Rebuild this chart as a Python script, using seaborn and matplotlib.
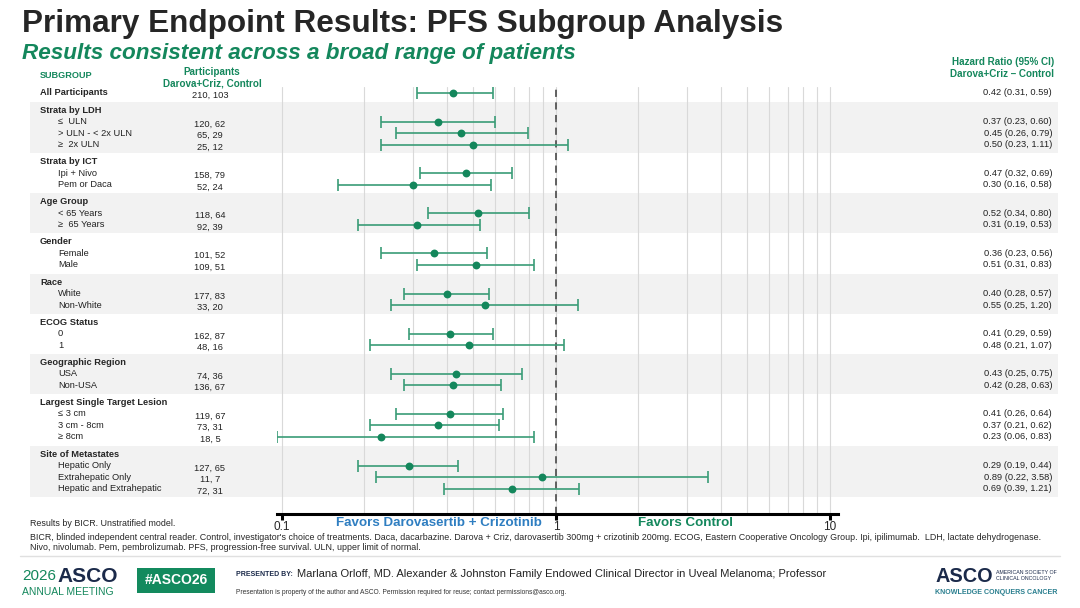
import numpy as np
import pandas as pd
import matplotlib
matplotlib.use('Agg')
import matplotlib.pyplot as plt
from matplotlib.patches import Rectangle
from matplotlib.lines import Line2D
from matplotlib.ticker import LogLocator, NullFormatter
import seaborn as sns

# Veriler
group_names = ['Strata by LDH', 'Strata by ICT', 'Age Group', 'Gender', 'Race', 'ECOG Status',
               'Geographic Region', 'Largest Single Target Lesion', 'Site of Metastates']
group_sizes = [3, 2, 2, 2, 2, 2, 2, 3, 3]

subgroups = ['All Participants',
             '≤  ULN', '> ULN - < 2x ULN', '≥  2x ULN',
             'Ipi + Nivo', 'Pem or Daca',
             '< 65 Years', '≥  65 Years',
             'Female', 'Male',
             'White', 'Non-White',
             '0', '1',
             'USA', 'Non-USA',
             '≤ 3 cm', '3 cm - 8cm', '≥ 8cm',
             'Hepatic Only', 'Extrahepatic Only', 'Hepatic and Extrahepatic']
participants = ['210, 103', '120, 62', '65, 29', '25, 12', '158, 79', '52, 24', '118, 64', '92, 39',
                '101, 52', '109, 51', '177, 83', '33, 20', '162, 87', '48, 16', '74, 36', '136, 67',
                '119, 67', '73, 31', '18, 5', '127, 65', '11, 7', '72, 31']
hr = [0.42, 0.37, 0.45, 0.50, 0.47, 0.30, 0.52, 0.31, 0.36, 0.51, 0.40,
      0.55, 0.41, 0.48, 0.43, 0.42, 0.41, 0.37, 0.23, 0.29, 0.89, 0.69]
hr_low = [0.31, 0.23, 0.26, 0.23, 0.32, 0.16, 0.34, 0.19, 0.23, 0.31, 0.28,
          0.25, 0.29, 0.21, 0.25, 0.28, 0.26, 0.21, 0.06, 0.19, 0.22, 0.39]
hr_high = [0.59, 0.60, 0.79, 1.11, 0.69, 0.58, 0.80, 0.53, 0.56, 0.83, 0.57,
           1.20, 0.59, 1.07, 0.75, 0.63, 0.64, 0.62, 0.83, 0.44, 3.58, 1.21]
x_ticks = [0.1, 1, 10]
x_ticklabels = ['0.1', '1', '10']

# Renkler
GREEN = '#14875C'
LINE = '#3A9C77'
BLUE = '#2F7EC1'
NAVY = '#1B2A4A'
BAND = '#F2F2F2'
GRID = '#D9D9D9'

# Satır düzeni
gap = 0.48
u = 0.0
item_y = [0.0]
header_y = []
group_last = []
for size in group_sizes:
    u += 1 + gap
    header_y.append(u)
    for k in range(size):
        u += 1
        item_y.append(u)
    group_last.append(u)

df = pd.DataFrame({'subgroup': subgroups, 'n': participants, 'hr': hr,
                   'low': hr_low, 'high': hr_high, 'y': item_y})

sns.set_theme(style='white')
plt.rcParams['font.family'] = ['Liberation Sans', 'DejaVu Sans']

W, H = 1080, 608
fig = plt.figure(figsize=(W / 100, H / 100), dpi=100)
fig.patch.set_facecolor('white')


def fx(px):
    return px / W


def fy(py):
    return 1 - py / H


y_top = -0.52
y_bot = item_y[-1] + 2.2
ax_bottom = fy(514)
ax_h = (514 - 87) / H

# Arka plan (bantlar ve tablo metinleri)
bg = fig.add_axes([0, ax_bottom, 1, ax_h])
bg.set_xlim(0, W)
bg.set_ylim(y_bot, y_top)
bg.axis('off')
for i in range(0, len(group_names), 2):
    top = header_y[i] - (1 + gap) / 2
    bottom = group_last[i] + (1 + gap) / 2
    bg.add_patch(Rectangle((30, top), 1028, bottom - top, color=BAND, lw=0, zorder=0))

fs = 6.7
bg.text(40, 0, 'All Participants', fontsize=fs, fontweight='bold', va='center')
for name, yy in zip(group_names, header_y):
    bg.text(40, yy, name, fontsize=fs, fontweight='bold', va='center')
for i, row in df.iterrows():
    if i > 0:
        bg.text(58, row.y, row.subgroup, fontsize=fs, va='center', color='#222222')
    bg.text(210, row.y + 0.2, row.n, fontsize=fs, va='center', ha='center', color='#222222')
    bg.text(1052, row.y, f'{row.hr:.2f} ({row.low:.2f}, {row.high:.2f})',
            fontsize=fs, va='center', ha='right', color='#222222')

# Forest grafiği
ax = fig.add_axes([fx(277), ax_bottom, 561 / W, ax_h], facecolor='none')
ax.set_xscale('log')
xmin, xmax = 0.0959, 10.7
lo_plot = np.maximum(df['low'], xmin)
ax.errorbar(df['hr'], df['y'], xerr=[df['hr'] - lo_plot, df['high'] - df['hr']],
            fmt='none', ecolor=LINE, elinewidth=1.2, capsize=4.5, capthick=1.2, zorder=3)
sns.scatterplot(data=df, x='hr', y='y', ax=ax, color=GREEN, s=32, edgecolor=GREEN,
                linewidth=0, zorder=4, legend=False)
ax.axvline(1, color='#555555', ls=(0, (4, 3)), lw=1.3, zorder=2)
ax.set_xlim(xmin, xmax)
ax.set_ylim(y_bot, y_top)
ax.set_xticks(x_ticks)
ax.set_xticklabels(x_ticklabels)
ax.xaxis.set_minor_locator(LogLocator(base=10, subs=np.arange(2, 10)))
ax.xaxis.set_minor_formatter(NullFormatter())
ax.grid(True, which='both', axis='x', color=GRID, lw=0.8, zorder=1)
ax.tick_params(which='minor', length=0)
ax.tick_params(which='major', axis='x', length=4.5, width=2.2, direction='out',
               color='black', labelsize=8.5, pad=0.8, bottom=True)
ax.set_yticks([])
ax.set_xlabel('')
ax.set_ylabel('')
for s in ['left', 'top', 'right']:
    ax.spines[s].set_visible(False)
ax.spines['bottom'].set_linewidth(2.2)
ax.spines['bottom'].set_color('black')

# Başlıklar
fig.text(fx(22), fy(24), 'Primary Endpoint Results: PFS Subgroup Analysis',
         fontsize=22.7, fontweight='bold', va='center')
fig.text(fx(22), fy(54), 'Results consistent across a broad range of patients',
         fontsize=16.2, fontweight='bold', style='italic', color=GREEN, va='center')
hfs = 7.1
fig.text(fx(40), fy(75), 'SUBGROUP', fontsize=6.6, fontweight='bold', color=GREEN, va='center')
fig.text(fx(212), fy(72), 'Participants', fontsize=hfs, fontweight='bold', color=GREEN,
         va='center', ha='center')
fig.text(fx(212), fy(84), 'Darova+Criz, Control', fontsize=hfs, fontweight='bold', color=GREEN,
         va='center', ha='center')
fig.text(fx(1054), fy(62), 'Hazard Ratio (95% CI)', fontsize=hfs, fontweight='bold', color=GREEN,
         va='center', ha='right')
fig.text(fx(1054), fy(74), 'Darova+Criz – Control', fontsize=hfs, fontweight='bold', color=GREEN,
         va='center', ha='right')
fig.text(fx(439), fy(523), 'Favors Darovasertib + Crizotinib', fontsize=9.6, fontweight='bold',
         color=BLUE, va='center', ha='center')
fig.text(fx(686), fy(523), 'Favors Control', fontsize=9.6, fontweight='bold',
         color=GREEN, va='center', ha='center')

# Dipnotlar
nfs = 6.4
fig.text(fx(30), fy(524), 'Results by BICR. Unstratified model.', fontsize=nfs, va='center')
fig.text(fx(30), fy(537), "BICR, blinded independent central reader. Control, investigator's choice of treatments. "
         "Daca, dacarbazine. Darova + Criz, darovasertib 300mg + crizotinib 200mg. ECOG, Eastern Cooperative "
         "Oncology Group. Ipi, ipilimumab.  LDH, lactate dehydrogenase.", fontsize=nfs, va='center')
fig.text(fx(30), fy(548), 'Nivo, nivolumab. Pem, pembrolizumab. PFS, progression-free survival. '
         'ULN, upper limit of normal.', fontsize=nfs, va='center')
fig.add_artist(Line2D([fx(20), fx(1060)], [fy(556), fy(556)], color='#E0E0E0', lw=1))

# Alt bilgi
fig.text(fx(22), fy(576), '2026', fontsize=11, color=GREEN, va='center')
fig.text(fx(57), fy(576), 'ASCO', fontsize=15, fontweight='bold', color=NAVY, va='center')
fig.text(fx(22), fy(592), 'ANNUAL MEETING', fontsize=7.5, color=GREEN, va='center')
fig.add_artist(Rectangle((fx(137), fy(593)), 78 / W, 25 / H, transform=fig.transFigure,
                         facecolor='#138A5E', edgecolor='none'))
fig.text(fx(176), fy(580.5), '#ASCO26', fontsize=10, fontweight='bold', color='white',
         va='center', ha='center')
fig.text(fx(236), fy(575), 'PRESENTED BY:', fontsize=5, fontweight='bold', color=NAVY, va='center')
fig.text(fx(297), fy(574), 'Marlana Orloff, MD. Alexander & Johnston Family Endowed Clinical Director '
         'in Uveal Melanoma; Professor', fontsize=8.0, color='#222222', va='center')
fig.text(fx(236), fy(593), 'Presentation is property of the author and ASCO. Permission required for '
         'reuse; contact permissions@asco.org.', fontsize=4.8, color='#333333', va='center')
fig.text(fx(935), fy(576), 'ASCO', fontsize=14.3, fontweight='bold', color=NAVY, va='center')
fig.text(fx(996), fy(573), 'AMERICAN SOCIETY OF', fontsize=3.8, color=NAVY, va='center')
fig.text(fx(996), fy(579), 'CLINICAL ONCOLOGY', fontsize=3.8, color=NAVY, va='center')
fig.text(fx(935), fy(592), 'KNOWLEDGE CONQUERS CANCER', fontsize=5.15, fontweight='bold',
         color='#2A7F8F', va='center')

fig.savefig('out.png', dpi=100, facecolor='white')
